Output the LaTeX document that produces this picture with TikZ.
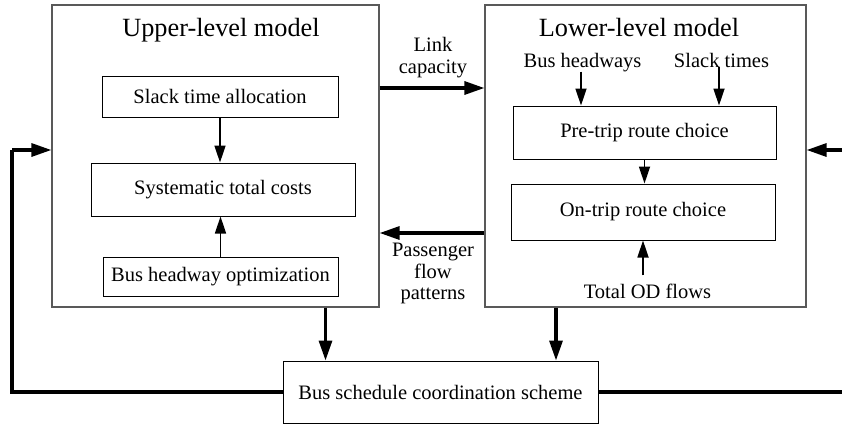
\documentclass[tikz,border=0pt]{standalone}
\usepackage{fontspec}
\setmainfont{Liberation Serif}
\usepackage{tikz}
\usetikzlibrary{arrows.meta, positioning, calc}

\begin{document}
\begin{tikzpicture}[
        x=1pt, y=-1pt,
        font=\fontsize{20.5}{21.5}\selectfont,
        % box styles
        modelbox/.style={rectangle, draw=black!65, line width=1.2pt, inner sep=0pt},
        stepbox/.style={rectangle, draw=black, line width=1pt, inner sep=0pt, text centered},
        title/.style={font=\fontsize{26.3}{28}\selectfont, anchor=base},
        tag/.style={anchor=base, inner sep=0pt},
        flowtag/.style={align=center, inner sep=0pt},
        bigarrow/.style={line width=3.2pt, -{Triangle[length=20pt, width=13pt]}},
        smallarrow/.style={line width=1.7pt, -{Triangle[length=17pt, width=11pt]}},
        loopline/.style={line width=3.2pt}
    ]
    \useasboundingbox (0,0) rectangle (842,424);

    % --- 1. OUTER MODEL BOXES ---
    \node[modelbox, minimum width=327pt, minimum height=302pt] (upper) at (215.5,156) {};
    \node[modelbox, minimum width=321pt, minimum height=302pt] (lower) at (645.5,156) {};

    \node[title] (uptitle) at (221,36) {Upper-level model};
    \node[title] (lowtitle) at (639,36) {Lower-level model};

    % upper-level steps
    \node[stepbox, minimum width=236pt, minimum height=41pt] (slack) at (220,96.5) {Slack time allocation};
    \node[stepbox, minimum width=264pt, minimum height=53pt] (cost) at (223,189.5) {Systematic total costs};
    \node[stepbox, minimum width=235pt, minimum height=39pt] (headway) at (220.5,276.5) {Bus headway optimization};

    % lower-level steps
    \node[stepbox, minimum width=263pt, minimum height=53pt] (pretrip) at (644.5,132.5) {Pre-trip route choice};
    \node[stepbox, minimum width=264pt, minimum height=56pt] (ontrip) at (643,212) {On-trip route choice};

    \node[tag] (bushw) at (582.5,67) {Bus headways};
    \node[tag] (slacktimes) at (721.5,67) {Slack times};
    \node[tag] (odflows) at (647.5,298) {Total OD flows};

    % exchange labels between the two levels
    \node[flowtag] (linkcap) at (433,57.7) {Link\\capacity};
    \node[flowtag] (paxflow) at (433,273.8) {Passenger\\flow\\patterns};

    % scheme box
    \node[stepbox, minimum width=315pt, minimum height=62pt] (scheme) at (440.5,392) {Bus schedule coordination scheme};

    \coordinate (backL) at (12,150);
    \coordinate (backR) at (860,150);

    % --- 2. ARROWS INSIDE THE BOXES ---
    \draw[smallarrow] (slack.south) -- (slack.south |- cost.north);
    \draw[smallarrow] (headway.north) -- (headway.north |- cost.south);

    \draw[smallarrow] ([xshift=-1.5pt]bushw.south) -- ([xshift=-1.5pt]bushw.south |- pretrip.north);
    \draw[smallarrow] ([xshift=-2.5pt]slacktimes.south) -- ([xshift=-2.5pt]slacktimes.south |- pretrip.north);
    \draw[smallarrow] (pretrip.south) -- (pretrip.south |- ontrip.north);
    \draw[smallarrow] ([yshift=8pt]odflows.north -| ontrip.south) -- (ontrip.south);

    % --- 3. ARROWS BETWEEN THE LEVELS ---
    \draw[bigarrow] ([yshift=68pt]upper.east) -- ([yshift=68pt]lower.west);
    \draw[bigarrow] ([yshift=-77pt]lower.west) -- ([yshift=-77pt]upper.east);

    \draw[bigarrow] ([xshift=110pt]upper.south) -- ([xshift=110pt]upper.south |- scheme.north);
    \draw[bigarrow] ([xshift=-89.5pt]lower.south) -- ([xshift=-89.5pt]lower.south |- scheme.north);

    % feedback loops
    \draw[loopline] (scheme.west) -| (backL);
    \draw[bigarrow] (backL) -- ([yshift=6pt]upper.west);
    \draw[loopline] (scheme.east) -| (backR);
    \draw[bigarrow] (backR) -- ([yshift=6pt]lower.east);

\end{tikzpicture}
\end{document}
